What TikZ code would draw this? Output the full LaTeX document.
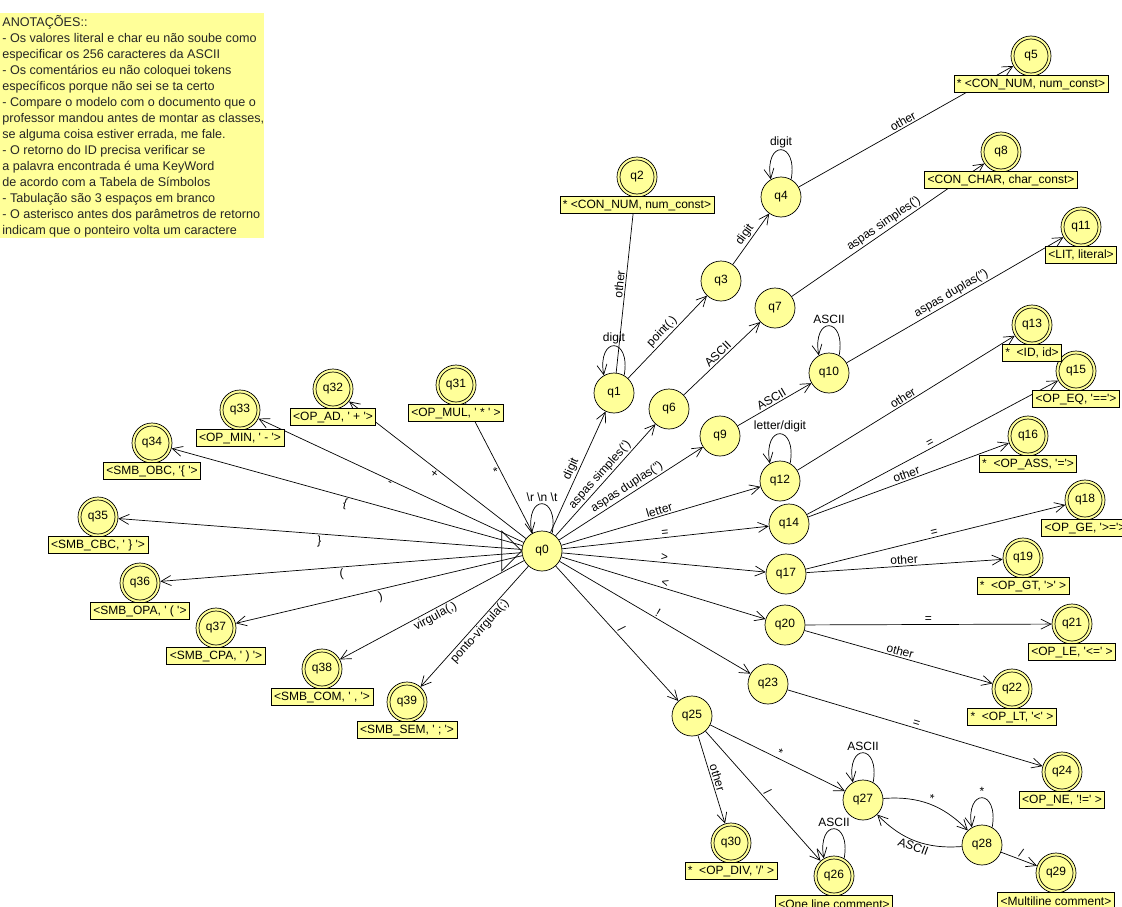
\documentclass[tikz,border=0pt]{standalone}
\usepackage{fontspec}
\newfontfamily\jflapfont{Liberation Sans}[Ligatures=TeXOff]
\usetikzlibrary{arrows.meta,positioning}
\definecolor{statecolor}{RGB}{255,255,153}
\definecolor{notecolor}{RGB}{255,255,153}
\newcommand{\radius}{20pt}
\newcommand{\innerradius}{17pt}
\newcommand{\selfloop}[2]{\draw[arr] (#1.60) .. controls +(80:40) and +(100:40) .. node[edgelabel, above] {#2} (#1.120);}

\tikzset{
    state/.style={circle, draw, fill=statecolor, minimum size=2*\radius, inner sep=0pt},
    final/.style={state, path picture={\draw (path picture bounding box.center) circle (\innerradius);}},
    tokenbox/.style={draw, fill=statecolor, inner xsep=3pt, inner ysep=0pt, minimum height=17pt},
    arr/.style={-{Straight Barb[length=10pt,width=10pt]}},
    edgelabel/.style={sloped, inner sep=1.5pt}
}

\begin{document}
\begin{tikzpicture}[x=1pt, y=1pt, line width=0.7pt, font=\jflapfont\fontsize{12}{14}\selectfont]
    \useasboundingbox (0,0) rectangle (1122,-907);
    %Anotacoes:
    \fill[notecolor] (0,-13) rectangle (264,-238);
    \node[anchor=north west, align=left, inner sep=0pt, text=black!85, font=\jflapfont\fontsize{12.6}{16}\selectfont] (notes) at (2,-15) {ANOTAÇÕES::\\
        - Os valores literal e char eu não soube como\\
        especificar os 256 caracteres da ASCII\\
        - Os comentários eu não coloquei tokens\\
        específicos porque não sei se ta certo\\
        - Compare o modelo com o documento que o\\
        professor mandou antes de montar as classes,\\
        se alguma coisa estiver errada, me fale.\\
        - O retorno do ID precisa verificar se\\
        a palavra encontrada é uma KeyWord\\
        de acordo com a Tabela de Símbolos\\
        - Tabulação são 3 espaços em branco\\
        - O asterisco antes dos parâmetros de retorno\\
        indicam que o ponteiro volta um caractere};

    %Estados:
    \node[state] (q0) at (542,-551) {q0};
    \node[state] (q1) at (614,-393) {q1};
    \node[final] (q2) at (637,-177) {q2};
    \node[state] (q3) at (721,-281) {q3};
    \node[state] (q4) at (781,-197) {q4};
    \node[final] (q5) at (1031,-56) {q5};
    \node[state] (q6) at (669,-409) {q6};
    \node[state] (q7) at (775,-308) {q7};
    \node[final] (q8) at (1001,-152) {q8};
    \node[state] (q9) at (720,-436) {q9};
    \node[state] (q10) at (829,-373) {q10};
    \node[final] (q11) at (1081,-227) {q11};
    \node[state] (q12) at (780,-481) {q12};
    \node[final] (q13) at (1032,-325) {q13};
    \node[state] (q14) at (789,-524) {q14};
    \node[final] (q15) at (1076,-371) {q15};
    \node[final] (q16) at (1028,-436) {q16};
    \node[state] (q17) at (786,-574) {q17};
    \node[final] (q18) at (1085,-500) {q18};
    \node[final] (q19) at (1023,-558) {q19};
    \node[state] (q20) at (785,-625) {q20};
    \node[final] (q21) at (1072,-624) {q21};
    \node[final] (q22) at (1012,-689) {q22};
    \node[state] (q23) at (768,-684) {q23};
    \node[final] (q24) at (1062,-772) {q24};
    \node[state] (q25) at (692,-716) {q25};
    \node[final] (q26) at (834,-876) {q26};
    \node[state] (q27) at (863,-800) {q27};
    \node[state] (q28) at (982,-845) {q28};
    \node[final] (q29) at (1056,-873) {q29};
    \node[final] (q30) at (731,-843) {q30};
    \node[final] (q31) at (456,-385) {q31};
    \node[final] (q32) at (333,-389) {q32};
    \node[final] (q33) at (240,-410) {q33};
    \node[final] (q34) at (152,-443) {q34};
    \node[final] (q35) at (98,-517) {q35};
    \node[final] (q36) at (140,-583) {q36};
    \node[final] (q37) at (216,-628) {q37};
    \node[final] (q38) at (322,-669) {q38};
    \node[final] (q39) at (407,-702) {q39};

    %Estado inicial:
    \draw (q0.west) -- ++(-20,20) -- ++(0,-40) -- cycle;

    %Transicoes de q0:
    \selfloop{q0}{\textbackslash r \textbackslash n \textbackslash t}
    \draw[arr] (q0) -- node[edgelabel, above] {digit} (q1);
    \draw[arr] (q0) -- node[edgelabel, above] {aspas simples(')} (q6);
    \draw[arr] (q0) -- node[edgelabel, above] {aspas duplas(")} (q9);
    \draw[arr] (q0) -- node[edgelabel, above] {letter} (q12);
    \draw[arr] (q0) -- node[edgelabel, above] {=} (q14);
    \draw[arr] (q0) -- node[edgelabel, above] {>} (q17);
    \draw[arr] (q0) -- node[edgelabel, above] {<} (q20);
    \draw[arr] (q0) -- node[edgelabel, above] {!} (q23);
    \draw[arr] (q0) -- node[edgelabel, above] {/} (q25);
    \draw[arr] (q0) -- node[edgelabel, below] {*} (q31);
    \draw[arr] (q0) -- node[edgelabel, below] {+} (q32);
    \draw[arr] (q0) -- node[edgelabel, below] {-} (q33);
    \draw[arr] (q0) -- node[edgelabel, below] {\{} (q34);
    \draw[arr] (q0) -- node[edgelabel, below] {\}} (q35);
    \draw[arr] (q0) -- node[edgelabel, below] {(} (q36);
    \draw[arr] (q0) -- node[edgelabel, below] {)} (q37);
    \draw[arr] (q0) -- node[edgelabel, below] {virgula(,)} (q38);
    \draw[arr] (q0) -- node[edgelabel, below] {ponto-virgula(;)} (q39);

    %Numeros:
    \selfloop{q1}{digit}
    \draw[arr] (q1) -- node[edgelabel, above] {other} (q2);
    \draw[arr] (q1) -- node[edgelabel, above] {point(.)} (q3);
    \draw[arr] (q3) -- node[edgelabel, above] {digit} (q4);
    \selfloop{q4}{digit}
    \draw[arr] (q4) -- node[edgelabel, above] {other} (q5);

    %Char e literal:
    \draw[arr] (q6) -- node[edgelabel, above] {ASCII} (q7);
    \draw[arr] (q7) -- node[edgelabel, above] {aspas simples(')} (q8);
    \draw[arr] (q9) -- node[edgelabel, above] {ASCII} (q10);
    \selfloop{q10}{ASCII}
    \draw[arr] (q10) -- node[edgelabel, above] {aspas duplas(")} (q11);

    %Identificador:
    \selfloop{q12}{letter/digit}
    \draw[arr] (q12) -- node[edgelabel, above] {other} (q13);

    %Operadores relacionais:
    \draw[arr] (q14) -- node[edgelabel, above] {=} (q15);
    \draw[arr] (q14) -- node[edgelabel, above] {other} (q16);
    \draw[arr] (q17) -- node[edgelabel, above] {=} (q18);
    \draw[arr] (q17) -- node[edgelabel, above] {other} (q19);
    \draw[arr] (q20) -- node[edgelabel, above] {=} (q21);
    \draw[arr] (q20) -- node[edgelabel, above] {other} (q22);
    \draw[arr] (q23) -- node[edgelabel, above] {=} (q24);

    %Divisao e comentarios:
    \draw[arr] (q25) -- node[edgelabel, above] {other} (q30);
    \draw[arr] (q25) -- node[edgelabel, above] {/} (q26);
    \draw[arr] (q25) -- node[edgelabel, above] {*} (q27);
    \selfloop{q26}{ASCII}
    \selfloop{q27}{ASCII}
    \draw[arr] (q27) to[bend left=25] node[edgelabel, above] {*} (q28);
    \draw[arr] (q28) to[bend left=25] node[edgelabel, below] {ASCII} (q27);
    \selfloop{q28}{*}
    \draw[arr] (q28) -- node[edgelabel, above] {/} (q29);

    %Tokens:
    \node[tokenbox, below=-1pt of q2] (t2) {* <CON\_NUM, num\_const>};
    \node[tokenbox, below=-1pt of q5] (t5) {* <CON\_NUM, num\_const>};
    \node[tokenbox, below=-1pt of q8] (t8) {<CON\_CHAR, char\_const>};
    \node[tokenbox, below=-1pt of q11] (t11) {<LIT, literal>};
    \node[tokenbox, below=-1pt of q13] (t13) {*~ <ID, id>};
    \node[tokenbox, below=-1pt of q15] (t15) {<OP\_EQ, '=='>};
    \node[tokenbox, below=-1pt of q16] (t16) {*~ <OP\_ASS, '='>};
    \node[tokenbox, below=-1pt of q18] (t18) {<OP\_GE, '>='>};
    \node[tokenbox, below=-1pt of q19] (t19) {*~ <OP\_GT, '>' >};
    \node[tokenbox, below=-1pt of q21] (t21) {<OP\_LE, '<=' >};
    \node[tokenbox, below=-1pt of q22] (t22) {*~ <OP\_LT, '<' >};
    \node[tokenbox, below=-1pt of q24] (t24) {<OP\_NE, '!=' >};
    \node[tokenbox, below=-1pt of q26] (t26) {<One line comment>};
    \node[tokenbox, below=-1pt of q29] (t29) {<Multiline comment>};
    \node[tokenbox, below=-1pt of q30] (t30) {*~ <OP\_DIV, '/' >};
    \node[tokenbox, below=-1pt of q31] (t31) {<OP\_MUL, ' * ' >};
    \node[tokenbox, below=-1pt of q32] (t32) {<OP\_AD, ' + '>};
    \node[tokenbox, below=-1pt of q33] (t33) {<OP\_MIN, ' - '>};
    \node[tokenbox, below=-1pt of q34] (t34) {<SMB\_OBC, '\{ '>};
    \node[tokenbox, below=-1pt of q35] (t35) {<SMB\_CBC, ' \} '>};
    \node[tokenbox, below=-1pt of q36] (t36) {<SMB\_OPA, ' ( '>};
    \node[tokenbox, below=-1pt of q37] (t37) {<SMB\_CPA, ' ) '>};
    \node[tokenbox, below=-1pt of q38] (t38) {<SMB\_COM, ' , '>};
    \node[tokenbox, below=-1pt of q39] (t39) {<SMB\_SEM, ' ; '>};
\end{tikzpicture}
\end{document}
